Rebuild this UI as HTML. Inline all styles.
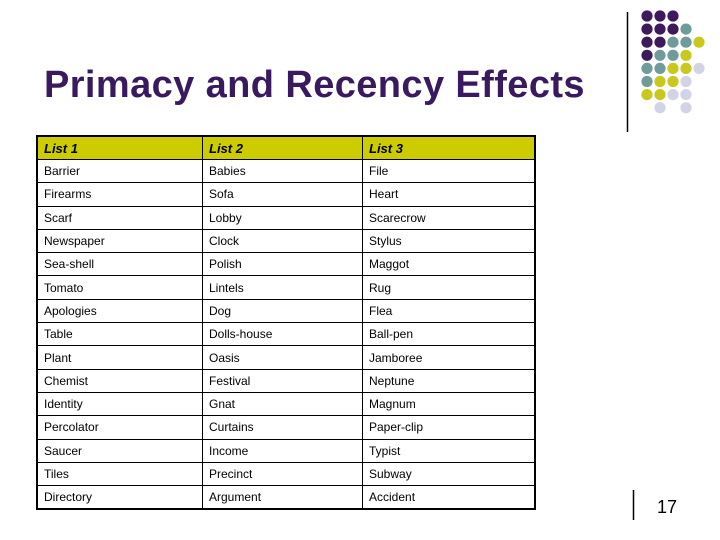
<!DOCTYPE html>
<html><head><meta charset="utf-8"><style>
body{margin:0;width:720px;height:540px;background:#fff;position:relative;overflow:hidden;font-family:"Liberation Sans",sans-serif}
#title{position:absolute;left:44px;top:64px;font-size:38px;letter-spacing:0.4px;font-weight:bold;color:#3a1a5e;white-space:nowrap}
table{position:absolute;left:36px;top:135px;width:500px;border-collapse:collapse;border:2px solid #000;font-size:12px}
td{border:1px solid #000;padding:0 0 0 6px;height:22.3px;color:#000}
tr.h td{background:#cccc00;font-weight:bold;font-style:italic;font-size:13px;height:22px}
td.c1{width:158px}td.c2{width:153px}
</style></head><body>
<div id="title">Primacy and Recency Effects</div>
<svg width="720" height="540" style="position:absolute;left:0;top:0">
<line x1="627.5" y1="12" x2="627.5" y2="132" stroke="#000" stroke-width="1.5"/>
<line x1="633.5" y1="490" x2="633.5" y2="520" stroke="#000" stroke-width="1.5"/>
<g id="dots"></g>
</svg>
<div style="position:absolute;left:657px;top:497px;font-size:18px">17</div>
<table><tbody id="tb"></tbody></table>
<script>
const grid=["PPP..","PPPT.","PPTTY","PTTY.","TTYYL","TYYL.","YYLL.",".L.L."];
const col={P:"#3d1a5c",T:"#6f9b9b",Y:"#c8c81e",L:"#d3d3e8"};
const g=document.getElementById('dots');
grid.forEach((r,i)=>[...r].forEach((c,j)=>{if(c==='.')return;
const e=document.createElementNS('http://www.w3.org/2000/svg','circle');


e.setAttribute('cx',647+j*13);e.setAttribute('cy',16+i*13.1);e.setAttribute('r',5.6);e.setAttribute('fill',col[c]);g.appendChild(e);}));
const rows=[["List 1","List 2","List 3"],["Barrier","Babies","File"],["Firearms","Sofa","Heart"],["Scarf","Lobby","Scarecrow"],["Newspaper","Clock","Stylus"],["Sea-shell","Polish","Maggot"],["Tomato","Lintels","Rug"],["Apologies","Dog","Flea"],["Table","Dolls-house","Ball-pen"],["Plant","Oasis","Jamboree"],["Chemist","Festival","Neptune"],["Identity","Gnat","Magnum"],["Percolator","Curtains","Paper-clip"],["Saucer","Income","Typist"],["Tiles","Precinct","Subway"],["Directory","Argument","Accident"]];
const tb=document.getElementById('tb');
rows.forEach((r,i)=>{const tr=document.createElement('tr');


if(!i)tr.className='h';
r.forEach((t,j)=>{const td=document.createElement('td');


td.className='c'+(j+1);td.textContent=t;tr.appendChild(td);});tb.appendChild(tr);});
</script>
</body></html>
